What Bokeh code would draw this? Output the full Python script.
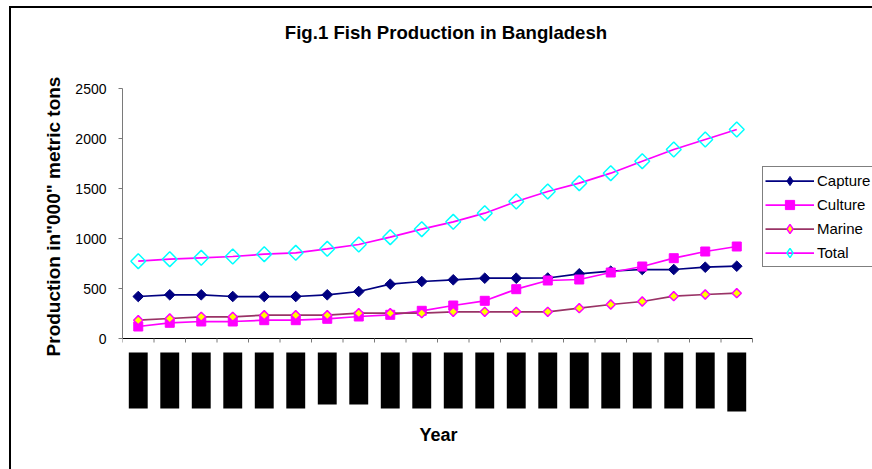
import math

from bokeh.plotting import figure
from bokeh.models import Range1d, FixedTicker, Label, Legend, LegendItem, Title
from bokeh.embed import file_html
from bokeh.resources import INLINE

# Fish production by year, in thousand metric tons (20 fiscal years)
n_years = 20
capture = [420, 437, 437, 420, 420, 420, 437, 470, 543, 570,
           587, 603, 603, 605, 647, 673, 690, 690, 713, 723]
culture = [120, 157, 170, 170, 183, 183, 197, 220, 237, 277,
           330, 377, 493, 580, 590, 660, 720, 803, 870, 920]
marine = [183, 200, 217, 217, 233, 233, 233, 253, 253, 253,
          267, 267, 267, 267, 303, 340, 370, 423, 440, 453]
total = [773, 793, 807, 820, 843, 857, 897, 940, 1013, 1093,
         1167, 1253, 1370, 1470, 1553, 1653, 1773, 1890, 1990, 2090]
y_ticks = [0, 500, 1000, 1500, 2000, 2500]

FONT = "Liberation Sans"
PX_X = 31.5      # pixels per year slot
PX_Y = 0.1       # pixels per thousand tons
FRAME_W, FRAME_H = 750, 416
Y_TOP = 2500 + 80 / PX_Y    # headroom above the value axis holds the title

xs = [i + 0.5 for i in range(n_years)]

p = figure(
    frame_width=FRAME_W, frame_height=FRAME_H,
    min_border_left=111, min_border_right=0, min_border_top=0, min_border_bottom=45,
    x_range=Range1d(0, FRAME_W / PX_X),
    y_range=Range1d(Y_TOP - FRAME_H / PX_Y, Y_TOP),
    x_axis_location=None,
    output_backend="svg", toolbar_location=None,
    background_fill_color="white", border_fill_color="white",
    outline_line_color=None,
    styles={"margin-left": "9px", "margin-top": "6px",
            "border-left": "2px solid black", "border-top": "2px solid black"},
)
p.grid.visible = False

# y axis, limited to the data span
ya = p.yaxis[0]
ya.bounds = (0, 2500)
ya.ticker = FixedTicker(ticks=y_ticks)
ya.axis_line_color = "#7a7a7a"
ya.major_tick_line_color = "#7a7a7a"
ya.major_tick_out = 4
ya.major_tick_in = 0
ya.minor_tick_line_color = None
ya.major_label_text_font = FONT
ya.major_label_text_font_size = "14px"
ya.major_label_text_color = "black"
ya.major_label_standoff = 12
ya.axis_label = 'Production in"000" metric tons'
ya.axis_label_text_font = FONT
ya.axis_label_text_font_size = "19px"
ya.axis_label_text_font_style = "bold"
ya.axis_label_text_color = "black"
ya.axis_label_standoff = 8

# category axis on zero: baseline plus tick marks between the years
tick_px = 4
p.segment(x0=[0], y0=[0], x1=[n_years], y1=[0], line_color="black", line_width=1.2)
p.segment(x0=list(range(n_years + 1)), y0=[0] * (n_years + 1),
          x1=list(range(n_years + 1)), y1=[-tick_px / PX_Y] * (n_years + 1),
          line_color="#7a7a7a", line_width=1)

# year labels are blacked out
block_len_px = [56] * 6 + [52, 52] + [56] * 11 + [59]
p.quad(left=[x - 0.3 for x in xs], right=[x + 0.3 for x in xs],
       top=[-14 / PX_Y] * n_years,
       bottom=[-(14 + b) / PX_Y for b in block_len_px],
       fill_color="black", line_color=None)

# chart title
p.add_layout(Label(x=(445.5 - 122) / PX_X, y=2500 + (88 - 32) / PX_Y,
                   text="Fig.1 Fish Production in Bangladesh",
                   text_align="center", text_baseline="middle",
                   text_font=FONT, text_font_size="18.6px", text_font_style="bold",
                   text_color="black"))

# x axis title
p.add_layout(Title(text="Year", align="left", offset=297, standoff=-4,
                   text_font=FONT, text_font_size="18px", text_font_style="bold",
                   text_color="black"), "below")

LW = 1.75
diamond = math.pi / 4

r_cap_l = p.line(xs, capture, line_color="#000080", line_width=LW)
p.scatter(xs, capture, marker="square", angle=diamond, size=7.5,
          fill_color="#000080", line_color="#000080", line_width=1)

r_cul_l = p.line(xs, culture, line_color="#FF00FF", line_width=LW)
r_cul_m = p.scatter(xs, culture, marker="square", size=9,
                    fill_color="#FF00FF", line_color="#FF00FF", line_width=1)

r_mar_l = p.line(xs, marine, line_color="#993366", line_width=LW)
p.scatter(xs, marine, marker="square", angle=diamond, size=6.5,
          fill_color="#FFFF00", line_color="#FF00FF", line_width=1.5)

r_tot_l = p.line(xs, total, line_color="#FF00FF", line_width=LW)
p.scatter(xs, total, marker="square", angle=diamond, size=10.5,
          fill_color=None, line_color="#00FFFF", line_width=1.5)

# legend swatches for the diamond markers (a single undefined point, legend only)
nan = float("nan")
k_cap = p.scatter(x=[nan], y=[nan], marker="diamond", fill_color="#000080",
                  line_color="#000080", line_width=1)
k_mar = p.scatter(x=[nan], y=[nan], marker="diamond", fill_color="#FFFF00",
                  line_color="#FF00FF", line_width=1.5)
k_tot = p.scatter(x=[nan], y=[nan], marker="diamond", fill_color=None,
                  line_color="#00FFFF", line_width=1.5)

legend = Legend(items=[
    LegendItem(label="Capture", renderers=[r_cap_l, k_cap]),
    LegendItem(label="Culture", renderers=[r_cul_l, r_cul_m]),
    LegendItem(label="Marine", renderers=[r_mar_l, k_mar]),
    LegendItem(label="Total", renderers=[r_tot_l, k_tot]),
], location=(640, 424 - 267), orientation="vertical",
    glyph_width=49, glyph_height=23, label_height=23, label_standoff=3,
    spacing=1, padding=2, margin=0,
    label_text_font=FONT, label_text_font_size="15px", label_text_color="black",
    border_line_color="black", border_line_width=1, background_fill_color="white",
    background_fill_alpha=1)
p.add_layout(legend, "center")

open("out.html", "w").write(file_html(p, INLINE))
